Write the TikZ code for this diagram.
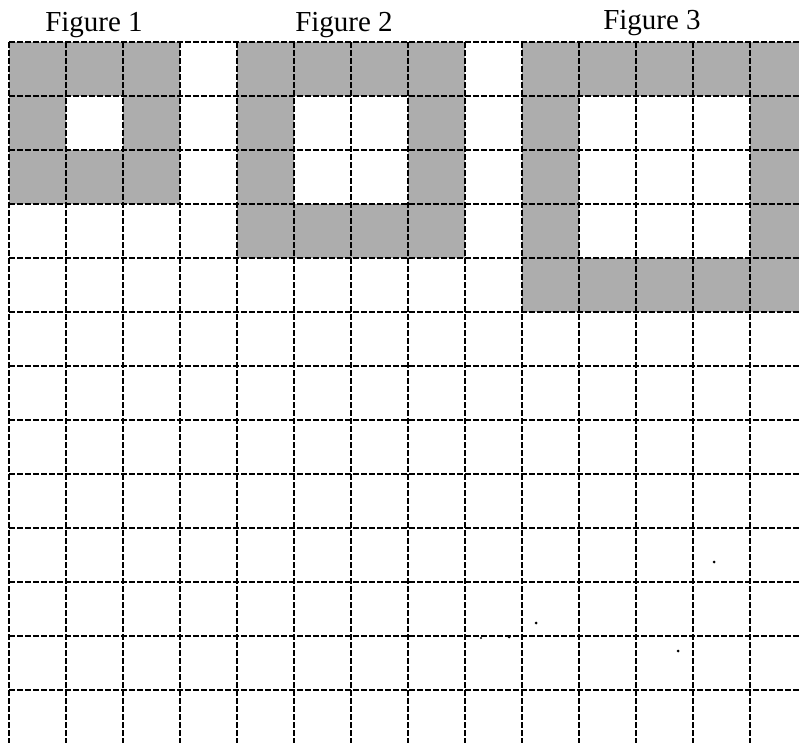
\documentclass[tikz,border=0pt]{standalone}
\usepackage{fontspec}
\setmainfont{Liberation Serif}
\begin{document}
\begin{tikzpicture}[x=1pt,y=-1pt,
  gridline/.style={black, line width=2.2pt, dash pattern=on 6pt off 2pt},
  greycell/.style={fill=black!32},
  figlabel/.style={font=\fontsize{29}{31}\selectfont, anchor=base, inner sep=0pt},
  speck/.style={fill=black}]
\useasboundingbox (0,0) rectangle (799,743);
\fill[white] (0,0) rectangle (799,743);
\begin{scope}
\clip (0,0) rectangle (799,743);
% Figure 1 (3x3 ring)
\foreach \c/\r in {0/0,1/0,2/0,0/1,2/1,0/2,1/2,2/2}
  \fill[greycell] ({9+57*\c},{42+54*\r}) rectangle ({9+57*(\c+1)},{42+54*(\r+1)});
% Figure 2 (4x4 ring)
\foreach \c/\r in {4/0,5/0,6/0,7/0,4/1,7/1,4/2,7/2,4/3,5/3,6/3,7/3}
  \fill[greycell] ({9+57*\c},{42+54*\r}) rectangle ({9+57*(\c+1)},{42+54*(\r+1)});
% Figure 3 (5x5 ring)
\foreach \c/\r in {9/0,10/0,11/0,12/0,13/0,9/1,13/1,9/2,13/2,9/3,13/3,9/4,10/4,11/4,12/4,13/4}
  \fill[greycell] ({9+57*\c},{42+54*\r}) rectangle ({9+57*(\c+1)},{42+54*(\r+1)});
% grid
\foreach \k in {0,...,13}
  \draw[gridline] ({9+57*\k},42) -- ({9+57*\k},743);
\foreach \j in {0,...,12}
  \draw[gridline] (9,{42+54*\j}) -- (799,{42+54*\j});
\end{scope}
% labels
\node[figlabel] (f1) at (94,32) {Figure 1};
\node[figlabel] (f2) at (344,32) {Figure 2};
\node[figlabel] (f3) at (652,30) {Figure 3};
% stray specks
\fill[speck] (714,562) circle (1.5);
\fill[speck] (536,623) circle (1.5);
\fill[speck] (509,637) circle (1.5);
\fill[speck] (481,638) circle (1.2);
\fill[speck] (678,651) circle (1.5);
\end{tikzpicture}
\end{document}
